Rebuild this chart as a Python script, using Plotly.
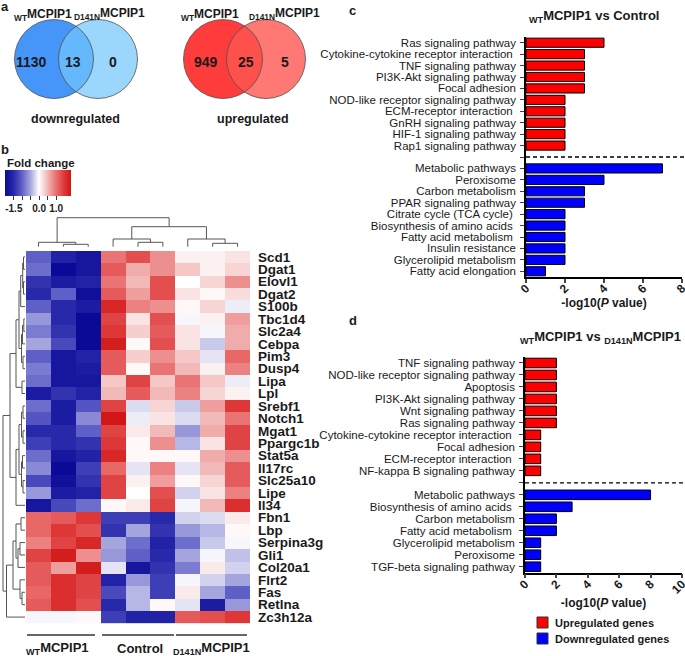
import plotly.graph_objects as go

W, H = 685, 656
FONT = "Liberation Sans, Arial, sans-serif"
INK = "#1a1a1a"

# ---------------- data ----------------
down_counts = [1130, 13, 0]
up_counts = [949, 25, 5]

genes = ["Scd1", "Dgat1", "Elovl1", "Dgat2", "S100b", "Tbc1d4", "Slc2a4", "Cebpa", "Pim3", "Dusp4",
         "Lipa", "Lpl", "Srebf1", "Notch1", "Mgat1", "Ppargc1b", "Stat5a", "Il17rc", "Slc25a10", "Lipe",
         "Il34", "Fbn1", "Lbp", "Serpina3g", "Gli1", "Col20a1", "Flrt2", "Fas", "Retlna", "Zc3h12a"]

# fold change, columns: WT x3, Control x3, D141N x3
fold = [
    [-1.0, -1.6, -1.8, 1.0, 1.3, 0.8, 0.1, 0.1, 0.2],
    [-0.9, -2.0, -1.8, 1.2, 0.6, 0.8, 0.4, 0.1, 0.3],
    [-1.4, -1.7, -1.6, 1.0, 0.5, 1.3, 0.0, 0.3, 0.8],
    [-1.5, -1.0, -1.9, 1.2, 0.7, 1.3, 0.2, 0.05, 0.25],
    [-1.0, -1.5, -1.7, 1.7, 0.9, 0.8, 0.05, 0.3, -0.1],
    [-0.6, -1.5, -2.2, 1.4, 0.2, 1.3, -0.05, 0.1, 0.7],
    [-0.8, -1.4, -2.2, 1.5, 0.35, 1.2, 0.2, -0.05, 0.6],
    [-0.5, -1.2, -2.1, 1.8, 0.05, 1.3, 0.2, -0.3, 0.6],
    [-1.0, -1.8, -1.6, 1.2, 0.35, 0.8, 0.4, -0.15, 1.1],
    [-0.8, -1.8, -1.7, 1.2, 0.05, 1.0, 0.5, 0.1, 0.9],
    [-0.9, -1.8, -1.8, 0.4, 1.4, 0.4, 1.0, 0.4, -0.1],
    [-1.7, -1.4, -1.6, 0.5, 1.2, 0.5, 0.9, 0.3, 0.1],
    [-0.9, -1.7, -1.1, 1.4, -0.2, 0.3, -0.3, 0.7, 1.5],
    [-1.1, -1.7, -0.7, 1.9, -0.1, 0.2, -0.2, 0.5, 1.0],
    [-1.5, -1.5, -1.0, 1.4, 0.15, 0.5, -0.6, 0.6, 1.4],
    [-1.3, -1.5, -1.4, 1.5, 0.05, 0.8, -0.4, 0.2, 1.4],
    [-0.9, -1.8, -1.6, 1.7, 0.05, 0.05, 0.05, 0.6, 0.8],
    [-0.7, -2.1, -1.3, 1.1, -0.15, 0.9, -0.15, 0.5, 1.2],
    [-1.2, -1.9, -1.4, 1.4, 0.1, 0.7, 0.05, 0.3, 1.2],
    [-0.6, -1.7, -1.6, 1.4, 0.0, 1.3, -0.25, 0.2, 0.9],
    [-1.8, -1.2, -0.9, 0.05, 0.15, 1.4, -0.05, 0.5, 1.6],
    [1.1, 1.2, 1.5, -1.3, -1.3, -1.5, -0.25, -0.2, 0.15],
    [1.1, 1.5, 1.3, -1.4, -0.5, -1.4, -0.6, -0.4, 0.05],
    [0.9, 1.4, 1.7, -0.5, -0.9, -1.6, -0.9, -0.3, -0.05],
    [1.4, 1.8, 0.8, -0.6, -1.0, -1.5, -0.5, -0.05, -0.35],
    [1.2, 0.7, 1.8, -0.15, -1.8, -1.4, -0.8, 0.15, -0.25],
    [1.2, 1.6, 1.4, -1.6, -0.6, -1.3, -0.05, -0.25, -0.5],
    [1.1, 1.6, 1.4, -1.2, -0.4, -1.3, 0.15, -0.5, -1.0],
    [1.2, 1.6, 1.3, -1.5, -0.4, 0.05, -0.15, -1.7, -0.6],
    [-0.05, -0.05, 0.05, -1.3, -1.6, -1.6, 1.2, 1.3, 1.5],
]

# clustering trees: [left, right, height]
col_tree = [[0, [1, 2, 2.4], 4.4], [[3, [4, 5, 4.4], 7.7], [6, [7, 8, 3.4], 7.7], 20], 29]
row_tree = [
    [
        [[[[[0, 1, 1.5], [2, 3, 1.5], 2.3], 4, 4.3], [[[5, 6, 1.2], 7, 2.5], [8, 9, 2], 3.5], 6], [10, 11, 3], 9],
        [[[[12, 13, 2], [14, 15, 2], 3.5], [[16, 17, 2.5], [18, 19, 2], 3.5], 6], 20, 9],
        15,
    ],
    [[[[21, 22, 4], [[23, 24, 5], 25, 7], 9], [26, [27, 28, 3], 5], 12], 29, 18.5],
    22,
]

c_up_terms = ["Ras signaling pathway", "Cytokine-cytokine receptor interaction\u00a0", "TNF signaling pathway",
              "PI3K-Akt signaling pathway", "Focal adhesion", "NOD-like receptor signaling pathway",
              "ECM-receptor interaction\u00a0", "GnRH signaling pathway", "HIF-1 signaling pathway",
              "Rap1 signaling pathway"]
c_up_vals = [4, 3, 3, 3, 3, 2, 2, 2, 2, 2]
c_down_terms = ["Metabolic pathways", "Peroxisome", "Carbon metabolism", "PPAR signaling pathway",
                "Citrate cycle (TCA cycle)\u00a0", "Biosynthesis of amino acids\u00a0", "Fatty acid metabolism\u00a0",
                "Insulin resistance", "Glycerolipid metabolism", "Fatty acid elongation"]
c_down_vals = [7, 4, 3, 3, 2, 2, 2, 2, 2, 1]

d_up_terms = ["TNF signaling pathway", "NOD-like receptor signaling pathway", "Apoptosis",
              "PI3K-Akt signaling pathway", "Wnt signaling pathway", "Ras signaling pathway",
              "Cytokine-cytokine receptor interaction\u00a0", "Focal adhesion", "ECM-receptor interaction\u00a0",
              "NF-kappa B signaling pathway"]
d_up_vals = [2, 2, 2, 2, 2, 2, 1, 1, 1, 1]
d_down_terms = ["Metabolic pathways", "Biosynthesis of amino acids\u00a0", "Carbon metabolism",
                "Fatty acid metabolism\u00a0", "Glycerolipid metabolism", "Peroxisome", "TGF-beta signaling pathway"]
d_down_vals = [8, 3, 2, 2, 1, 1, 1]

legend_names = ["Upregulated genes", "Downregulated genes"]
UP_COL, DOWN_COL = "#ff0000", "#0000ff"

ZMIN, ZMAX = -2.0, 1.9
# colour stops (value, colour)
heat_stops = [(-2.0, "#0a0a96"), (-1.5, "#2828aa"), (-1.0, "#5f5fc8"), (-0.5, "#a5a5de"), (0.0, "#ffffff"),
              (0.5, "#f2b9b9"), (1.0, "#ea7373"), (1.5, "#de3737"), (1.9, "#d01616")]


def px(x):
    return x / W


def py(y):
    return 1 - y / H


def dendro(node, xs, ys, horizontal):
    # returns (leaf position, height) of node, appends line segments
    if isinstance(node, int):
        return node, 0.0
    lp, lh = dendro(node[0], xs, ys, horizontal)
    rp, rh = dendro(node[1], xs, ys, horizontal)
    h = node[2]
    pos = [lp, lp, rp, rp, None]
    hts = [lh, h, h, rh, None]
    if horizontal:
        xs += hts
        ys += pos
    else:
        xs += pos
        ys += hts
    return (lp + rp) / 2, h


fig = go.Figure()

# ---------------- b: heatmap ----------------
cb_scale = 16.8  # px per fold-change unit on the colour key
cb_len = (ZMAX - ZMIN) * cb_scale
cb_left = 14 - (-1.5 - ZMIN) * cb_scale
fig.add_trace(go.Heatmap(
    z=fold, x=list(range(9)), y=list(range(len(genes))),
    zmin=ZMIN, zmax=ZMAX,
    colorscale=[[(v - ZMIN) / (ZMAX - ZMIN), c] for v, c in heat_stops],
    xaxis="x", yaxis="y", hoverinfo="skip",
    colorbar=dict(
        orientation="h", x=px(cb_left + cb_len / 2), xanchor="center", y=py(170), yanchor="top",
        len=cb_len, lenmode="pixels", thickness=26, xpad=0, ypad=0,
        outlinewidth=0, tickangle=0,
        tickvals=[-1.5, -1.0, -0.5, 0, 0.5, 1.0], ticktext=["-1.5", " ", " ", "0.0", " ", "1.0"],
        ticks="outside", ticklen=4, tickcolor="#333",
        tickfont=dict(family=FONT, size=10, color=INK, weight="bold"),
    ),
))

cx, cy = [], []
dendro(col_tree, cx, cy, False)
fig.add_trace(go.Scatter(x=cx, y=cy, mode="lines", line=dict(color="#555", width=1),
                         xaxis="x2", yaxis="y2", hoverinfo="skip", showlegend=False))
rx, ry = [], []
dendro(row_tree, rx, ry, True)
fig.add_trace(go.Scatter(x=rx, y=ry, mode="lines", line=dict(color="#555", width=1),
                         xaxis="x3", yaxis="y3", hoverinfo="skip", showlegend=False))


# ---------------- c / d: bars ----------------
def add_bars(up_terms, up_vals, down_terms, down_vals, xa, ya):
    up_pos = list(range(len(up_terms)))
    down_pos = [len(up_terms) + 1 + i for i in range(len(down_terms))]
    fig.add_trace(go.Bar(x=up_vals, y=up_pos, orientation="h", width=0.8, name=legend_names[0],
                         marker=dict(color=UP_COL, line=dict(color="black", width=1)),
                         xaxis=xa, yaxis=ya, showlegend=False, hoverinfo="skip"))
    fig.add_trace(go.Bar(x=down_vals, y=down_pos, orientation="h", width=0.8, name=legend_names[1],
                         marker=dict(color=DOWN_COL, line=dict(color="black", width=1)),
                         xaxis=xa, yaxis=ya, showlegend=False, hoverinfo="skip"))
    return up_pos + [len(up_terms)] + down_pos, up_terms + [" "] + down_terms, len(up_terms)


c_ticks, c_labels, c_gap = add_bars(c_up_terms, c_up_vals, c_down_terms, c_down_vals, "x4", "y4")
d_ticks, d_labels, d_gap = add_bars(d_up_terms, d_up_vals, d_down_terms, d_down_vals, "x5", "y5")

bar_x = dict(showline=True, linecolor="black", linewidth=1.5, ticks="outside", ticklen=4, tickwidth=1.5,
             tickangle=-45, showgrid=False, zeroline=False, ticklabelstandoff=-6, ticklabeloverflow="allow",
             tickfont=dict(family=FONT, size=12, color=INK, weight="bold"),
             title=dict(text="-log10(<i>P</i> value)", standoff=3,
                        font=dict(family=FONT, size=12, color=INK, weight="bold")))
bar_y = dict(showline=True, linecolor="black", linewidth=1.5, ticks="outside", ticklen=4, tickwidth=1,
             showgrid=False, zeroline=False, ticklabelstandoff=2,
             tickfont=dict(family=FONT, size=11.5, color=INK))

fig.update_layout(
    width=W, height=H, margin=dict(l=0, r=0, t=0, b=0, autoexpand=False),
    paper_bgcolor="white", plot_bgcolor="white",
    font=dict(family=FONT, color=INK),
    showlegend=False,
    xaxis=dict(domain=[px(26), px(250)], anchor="y", range=[-0.5, 8.5], visible=False),
    yaxis=dict(domain=[py(623.3), py(250.7)], anchor="x", range=[29.5, -0.5], side="right",
               tickvals=list(range(len(genes))), ticktext=genes, ticks="", showgrid=False, zeroline=False,
               ticklabelstandoff=7, tickfont=dict(family=FONT, size=13.5, color=INK, weight="bold")),
    xaxis2=dict(domain=[px(26), px(250)], anchor="y2", range=[-0.5, 8.5], visible=False),
    yaxis2=dict(domain=[py(251), py(217)], anchor="x2", range=[-4.3, 29.7], visible=False),
    xaxis3=dict(domain=[0, px(25)], anchor="y3", range=[25, 0], visible=False),
    yaxis3=dict(domain=[py(623.3), py(250.7)], anchor="x3", range=[29.5, -0.5], visible=False),
    xaxis4=dict(domain=[px(526), px(682)], anchor="y4", range=[0, 8.001], tickvals=[0, 2, 4, 6, 8], **bar_x),
    yaxis4=dict(domain=[py(277), py(37)], anchor="x4", range=[20.5, -0.5],
                tickvals=c_ticks, ticktext=c_labels, **bar_y),
    xaxis5=dict(domain=[px(525), px(682)], anchor="y5", range=[0, 10.001], tickvals=[0, 2, 4, 6, 8, 10], **bar_x),
    yaxis5=dict(domain=[py(572.7), py(357)], anchor="x5", range=[17.5, -0.5],
                tickvals=d_ticks, ticktext=d_labels, **bar_y),
)

shapes = []
# dashed separators between up and down groups
shapes.append(dict(type="line", xref="x4 domain", yref="y4", x0=0, x1=1.02, y0=c_gap, y1=c_gap,
                   line=dict(color="black", width=1.3, dash="4px,3px")))
shapes.append(dict(type="line", xref="x5 domain", yref="y5", x0=0, x1=1.02, y0=d_gap, y1=d_gap,
                   line=dict(color="black", width=1.3, dash="4px,3px")))

# venn circles
venn = [
    ((54, 59), "#4696fa", 1.0), ((98, 59), "#70c6fb", 0.7),
    ((223, 59), "#ff3c3c", 1.0), ((266, 59), "#ff5650", 0.8),
]
r = 39.5
for (vx, vy), col, op in venn:
    shapes.append(dict(type="circle", xref="paper", yref="paper",
                       x0=px(vx - r), x1=px(vx + r), y0=py(vy + r), y1=py(vy - r),
                       fillcolor=col, opacity=op, line=dict(width=0)))
for (vx, vy), col, op in venn:
    shapes.append(dict(type="circle", xref="paper", yref="paper",
                       x0=px(vx - r), x1=px(vx + r), y0=py(vy + r), y1=py(vy - r),
                       line=dict(color="#505050", width=0.8)))

# group lines under heatmap
for x0, x1 in [(27, 95), (102, 174), (176, 247)]:
    shapes.append(dict(type="line", xref="paper", yref="paper", x0=px(x0), x1=px(x1), y0=py(635), y1=py(635),
                       line=dict(color="#333", width=1.5)))

# legend swatches
for i, col in enumerate([UP_COL, DOWN_COL]):
    y0 = 617 + 16 * i
    shapes.append(dict(type="rect", xref="paper", yref="paper", x0=px(537), x1=px(548), y0=py(y0 + 11), y1=py(y0),
                       fillcolor=col, line=dict(color="#333", width=1)))
fig.update_layout(shapes=shapes)


def note(x, y, text, size, bold=True, anchor="center"):
    fig.add_annotation(x=px(x), y=py(y), xref="paper", yref="paper", text=text, showarrow=False,
                       xanchor=anchor, yanchor="middle",
                       font=dict(family=FONT, size=size, color=INK, weight="bold" if bold else "normal"))


# panel letters
note(5, 6, "a", 13)
note(5, 149, "b", 13)
note(353, 11, "c", 13)
note(353, 320, "d", 13)

# venn texts
note(43, 15, "<sub>WT</sub>MCPIP1", 12)
note(109, 14, "<sub>D141N</sub>MCPIP1", 12)
note(210, 15, "<sub>WT</sub>MCPIP1", 12)
note(284, 14, "<sub>D141N</sub>MCPIP1", 12)
for (x, v) in zip([31, 73, 113], down_counts):
    note(x, 62, str(v), 14)
for (x, v) in zip([206, 246, 285], up_counts):
    note(x, 62, str(v), 14)
note(75, 119, "downregulated", 12.5)
note(253, 119, "upregulated", 12.5)

# heatmap texts
note(41, 163, "Fold change", 11.5)
note(57, 648, "<sub>WT</sub>MCPIP1", 13)
note(140, 648, "Control", 13)
note(211, 648, "<sub>D141N</sub>MCPIP1", 13)

# bar panel titles
note(594, 16, "<sub>WT</sub>MCPIP1 vs Control", 13)
note(600, 337, "<sub>WT</sub>MCPIP1 vs <sub>D141N</sub>MCPIP1", 13)

# legend texts
for i, name in enumerate(legend_names):
    note(553, 622.5 + 16 * i, name, 11, anchor="left")

fig.write_html("out.html", config=dict(displayModeBar=False),
               post_script="document.body.style.margin='0';document.body.style.padding='0';")
